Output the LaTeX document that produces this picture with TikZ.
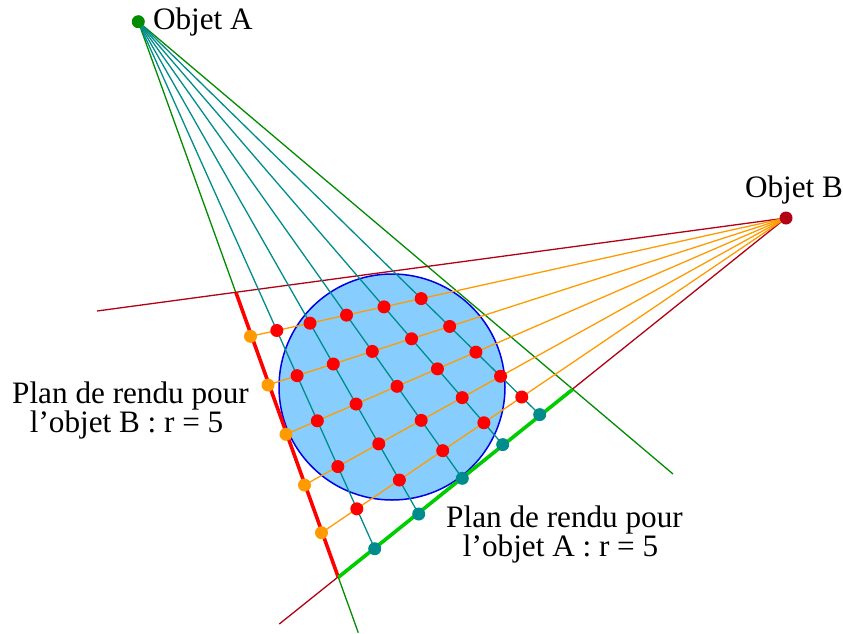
\documentclass[tikz,border=0pt]{standalone}
\usepackage{fontspec}
\setmainfont{Liberation Serif}
\usetikzlibrary{positioning}
\definecolor{tealray}{RGB}{0,140,140}
\definecolor{orangeray}{RGB}{255,155,0}
\definecolor{darkgreen}{RGB}{0,140,0}
\definecolor{darkred}{RGB}{178,0,20}
\definecolor{planegreen}{RGB}{0,205,0}
\definecolor{sphere}{RGB}{135,206,255}

\begin{document}
\begin{tikzpicture}[x=1pt, y=-1pt, font=\fontsize{31.2}{29}\selectfont,
  dot/.style={circle, inner sep=0pt, outer sep=0pt, minimum size=13pt},
  txt/.style={inner sep=0pt, align=center},
  ray/.style={line width=1.3pt},
  plane/.style={line width=3.6pt}]
  \useasboundingbox (0,0) rectangle (843,633);
  \node[draw=blue!90!black, fill=sphere, line width=1.5pt, circle, inner sep=0pt, minimum size=226pt] (ball) at (392,387) {};
  \node[dot, fill=darkgreen] (objA) at (138.3,21.7) {};
  \node[dot, fill=darkred] (objB) at (786,218) {};
  \node[txt, right=8pt of objA] (nameA) {Objet A};
  \node[txt, above=7pt of objB, xshift=8pt] (nameB) {Objet B};
  \coordinate (lowA) at (358.3,632.7);
  \coordinate (highA) at (673,474);
  \coordinate (leftB) at (97,311);
  \coordinate (lowB) at (279.3,624);
  \coordinate (topplane) at (236,292.7);
  \coordinate (corner) at (338.3,577.3);
  \coordinate (endplane) at (572.7,389.3);
  \draw[ray, darkgreen] (objA) -- (lowA);
  \draw[ray, darkgreen] (objA) -- (highA);
  \draw[ray, darkred] (objB) -- (leftB);
  \draw[ray, darkred] (objB) -- (lowB);
  \draw[plane, red] (topplane) -- (corner);
  \draw[plane, planegreen] (corner) -- (endplane);
  \foreach \n/\x/\y in {1/250.5/336.3, 2/268/385, 3/286/434.3, 4/304.5/485, 5/321.5/532.7} {
    \draw[ray, orangeray] (objB) -- (\x,\y);
    \node[dot, fill=orangeray] (b\n) at (\x,\y) {};
  }
  \foreach \n/\x/\y in {1/374.7/548.7, 2/418.7/514, 3/462.3/478.3, 4/502.7/444.6, 5/539.7/414.6} {
    \draw[ray, tealray] (objA) -- (\x,\y);
    \node[dot, fill=tealray] (a\n) at (\x,\y) {};
  }
  \foreach \n in {1,...,5} \foreach \m in {1,...,5}
    \node[dot, fill=red] (r\n\m) at (intersection cs:first line={(objB)--(b\n)}, second line={(objA)--(a\m)}) {};
  \node[txt] (labelB) at (130.5,410) {Plan de rendu pour\\l’objet B : r = 5\hspace*{0.25em}};
  \node[txt] (labelA) at (564.5,534.5) {Plan de rendu pour\\l’objet A : r = 5\hspace*{0.25em}};
\end{tikzpicture}
\end{document}
